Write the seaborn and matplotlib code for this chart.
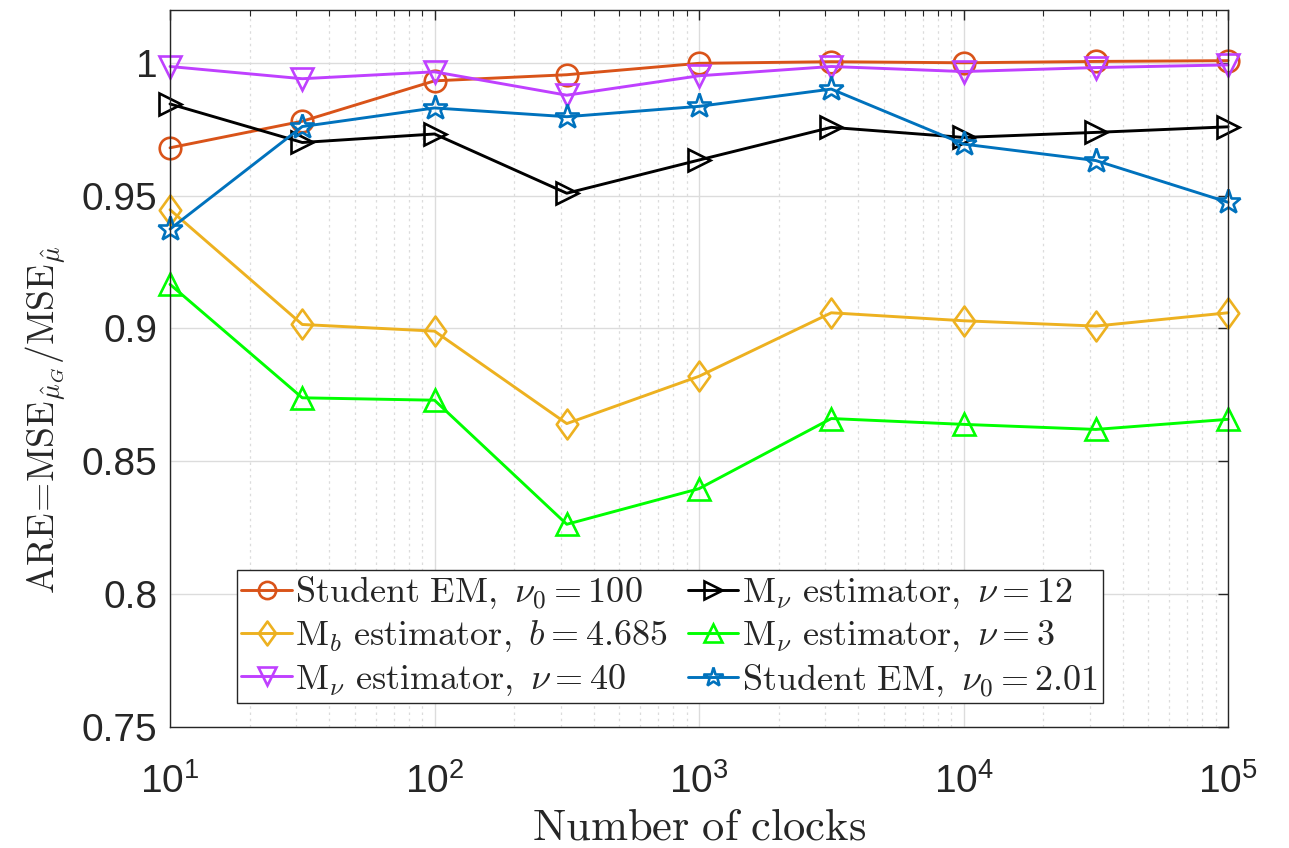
import matplotlib
matplotlib.use("Agg")
import matplotlib.pyplot as plt
import seaborn as sns
import pandas as pd
from matplotlib.path import Path
from matplotlib.ticker import LogLocator, FixedLocator, FuncFormatter, NullFormatter

# Number of clocks (half-decade steps)
clocks = [10, 31.6228, 100, 316.228, 1000, 3162.28, 10000, 31622.8, 100000]

# Asymptotic relative efficiency of each estimator
are_em100 = [0.968, 0.978, 0.9932, 0.9955, 0.9998, 1.0004, 1.0000, 1.0005, 1.0008]
are_mb = [0.9447, 0.9015, 0.8990, 0.8642, 0.8820, 0.9059, 0.9029, 0.9009, 0.9059]
are_nu40 = [0.9986, 0.9940, 0.9966, 0.9878, 0.9951, 0.9986, 0.9967, 0.9982, 0.9992]
are_nu12 = [0.9845, 0.9700, 0.9732, 0.9509, 0.9634, 0.9757, 0.9719, 0.9738, 0.9759]
are_nu3 = [0.9166, 0.8739, 0.8730, 0.8263, 0.8397, 0.8661, 0.8639, 0.8620, 0.8658]
are_em201 = [0.9374, 0.9760, 0.9830, 0.9797, 0.9836, 0.9901, 0.9694, 0.9632, 0.9475]

labels = [
    r"$\mathrm{Student\ EM},\ \nu_0 = 100$",
    r"$\mathrm{M}_b\ \mathrm{estimator},\ b = 4.685$",
    r"$\mathrm{M}_\nu\ \mathrm{estimator},\ \nu = 40$",
    r"$\mathrm{M}_\nu\ \mathrm{estimator},\ \nu = 12$",
    r"$\mathrm{M}_\nu\ \mathrm{estimator},\ \nu = 3$",
    r"$\mathrm{Student\ EM},\ \nu_0 = 2.01$",
]
series = [are_em100, are_mb, are_nu40, are_nu12, are_nu3, are_em201]
colors = ["#D95319", "#EDB120", "#BF40FF", "#000000", "#00FF00", "#0072BD"]

# diamond a bit wider than matplotlib's thin diamond
diamond = Path([(0, 1), (0.72, 0), (0, -1), (-0.72, 0), (0, 1)],
               [Path.MOVETO, Path.LINETO, Path.LINETO, Path.LINETO, Path.CLOSEPOLY])
markers = ["o", diamond, "v", ">", "^", "*"]
msizes = [15.5, 21.5, 16.5, 16.5, 16.5, 18.5]

sns.set_theme(style="white")
plt.rcParams["font.family"] = ["Liberation Sans", "DejaVu Sans"]
plt.rcParams["mathtext.fontset"] = "cm"

fig = plt.figure(figsize=(12.89, 8.48), dpi=100)
ax = fig.add_axes([0.1319, 0.1427, 0.8208, 0.8453])

for lab, vals, c, m, ms in zip(labels, series, colors, markers, msizes):
    df = pd.DataFrame({"clocks": clocks, "are": vals})
    sns.lineplot(data=df, x="clocks", y="are", ax=ax, color=c, label=lab,
                 linewidth=2.1, marker=m, markersize=ms,
                 markerfacecolor="none", markeredgecolor=c,
                 markeredgewidth=1.9, clip_on=False)

ax.set_xscale("log")
ax.set_xlim(10, 1e5)
ax.set_ylim(0.75, 1.0198)

ax.xaxis.set_major_locator(LogLocator(base=10, numticks=10))
ax.xaxis.set_minor_locator(LogLocator(base=10, subs=range(2, 10), numticks=20))
ax.xaxis.set_minor_formatter(NullFormatter())
ax.yaxis.set_major_locator(FixedLocator([0.75, 0.8, 0.85, 0.9, 0.95, 1.0]))
ax.yaxis.set_major_formatter(FuncFormatter(lambda v, p: f"{v:g}"))

ax.grid(True, which="major", color="#dcdcdc", linewidth=1.0, linestyle="-")
ax.grid(True, which="minor", axis="x", color="#dcdcdc", linewidth=0.9, linestyle=(0, (2, 3)))
ax.set_axisbelow(True)

for s in ax.spines.values():
    s.set_visible(True)
    s.set_color("#262626")
    s.set_linewidth(1.0)

ax.tick_params(which="both", direction="in", top=True, right=True,
               colors="#262626", labelcolor="#262626")
ax.tick_params(which="major", length=7, width=1.0, labelsize=28)
ax.tick_params(axis="y", which="major", pad=9)
ax.tick_params(axis="x", which="major", pad=26)
ax.tick_params(which="minor", length=4, width=0.8)

ax.set_xlabel(r"$\mathrm{Number\ of\ clocks}$", fontsize=32, color="#262626", labelpad=5)
ax.set_ylabel(r"$\mathrm{ARE}\!=\!\mathrm{MSE}_{\hat{\mu}_G}/\mathrm{MSE}_{\hat{\mu}}$",
              fontsize=27, color="#262626")
ax.yaxis.set_label_coords(-0.097, 0.428)

leg = ax.legend(loc="lower left", bbox_to_anchor=(0.0633, 0.0335), ncol=2,
                fontsize=26, frameon=True, fancybox=False, framealpha=1,
                edgecolor="#262626", handlelength=1.4, handletextpad=0.1,
                columnspacing=0.55, labelspacing=0.2, borderpad=0.12,
                borderaxespad=0, markerscale=0.8)
leg.get_frame().set_linewidth(1.0)

fig.savefig("out.png", dpi=100, facecolor="white")
